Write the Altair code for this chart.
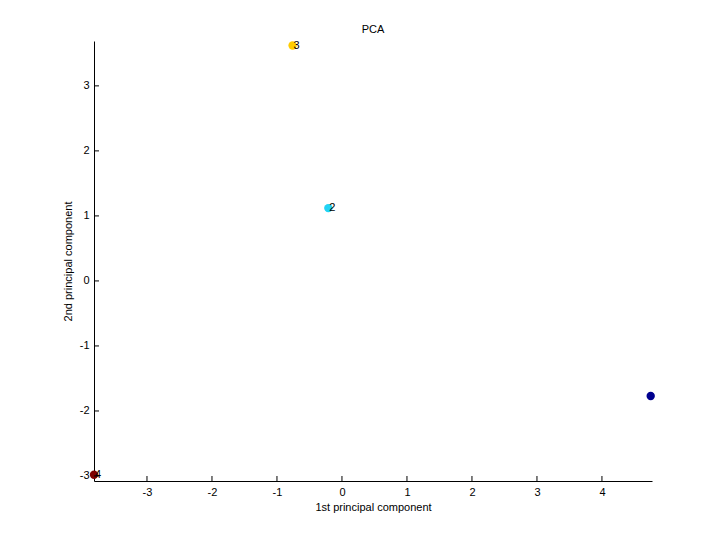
import altair as alt
import pandas as pd

labels = ["1", "2", "3", "4"]
pc1 = [4.75, -0.21, -0.76, -3.815]
pc2 = [-1.77, 1.12, 3.62, -2.98]
colors = ["#00008F", "#22D3F5", "#FFCC00", "#800000"]

x_ticks = [-3, -2, -1, 0, 1, 2, 3, 4]
y_ticks = [-3, -2, -1, 0, 1, 2, 3]

df = pd.DataFrame({"label": labels, "pc1": pc1, "pc2": pc2, "color": colors})
xt = pd.DataFrame({"v": x_ticks})
yt = pd.DataFrame({"v": y_ticks})

W, H = 558, 440
FONT = "Liberation Sans"

xscale = alt.Scale(domain=[-3.815, 4.77], nice=False, zero=False)
yscale = alt.Scale(domain=[-3.077, 3.69], nice=False, zero=False)

xaxis = alt.Axis(values=x_ticks, labelExpr="'' + datum.value", tickSize=0, labelPadding=5, grid=False,
                 domainColor="black",
                 labelFont=FONT, labelFontSize=11, labelColor="black",
                 title="1st principal component", titleFont=FONT, titleFontSize=11,
                 titleFontWeight="normal", titleColor="black", titlePadding=4)
yaxis = alt.Axis(values=y_ticks, labelExpr="'' + datum.value", tickSize=0, labelPadding=5, grid=False,
                 domainColor="black",
                 labelFont=FONT, labelFontSize=11, labelColor="black",
                 title="2nd principal component", titleFont=FONT, titleFontSize=11,
                 titleFontWeight="normal", titleColor="black", titlePadding=6)

xtick_marks = alt.Chart(xt).mark_rule(color="black", strokeWidth=1).encode(
    x=alt.X("v:Q", scale=xscale, axis=xaxis, title="1st principal component"),
    y=alt.value(H),
    y2=alt.value(H - 5),
)
ytick_marks = alt.Chart(yt).mark_rule(color="black", strokeWidth=1).encode(
    y=alt.Y("v:Q", scale=yscale, axis=yaxis, title="2nd principal component"),
    x=alt.value(0),
    x2=alt.value(5),
)

points = alt.Chart(df).mark_circle(size=70, opacity=1).encode(
    x=alt.X("pc1:Q", scale=xscale, axis=xaxis, title="1st principal component"),
    y=alt.Y("pc2:Q", scale=yscale, axis=yaxis, title="2nd principal component"),
    color=alt.Color("color:N", scale=None),
)

text = alt.Chart(df).mark_text(align="left", baseline="middle", dx=1, font=FONT,
                               fontSize=11, color="black", clip=True).encode(
    x=alt.X("pc1:Q", scale=xscale, axis=xaxis, title="1st principal component"),
    y=alt.Y("pc2:Q", scale=yscale, axis=yaxis, title="2nd principal component"),
    text="label:N",
)

chart = alt.layer(points, xtick_marks, ytick_marks, text).properties(
    width=W, height=H,
    title=alt.Title("PCA", font=FONT, fontSize=11, fontWeight="normal", color="black", offset=6),
    autosize=alt.AutoSizeParams(type="none"),
    padding={"left": 86, "top": 33, "right": 40, "bottom": 40},
    view=alt.ViewBackground(strokeOpacity=0, strokeWidth=0),
).configure_view(strokeWidth=0, strokeOpacity=0).configure(background="white")

chart.save("out.html", embed_options={"renderer": "svg", "actions": False})
